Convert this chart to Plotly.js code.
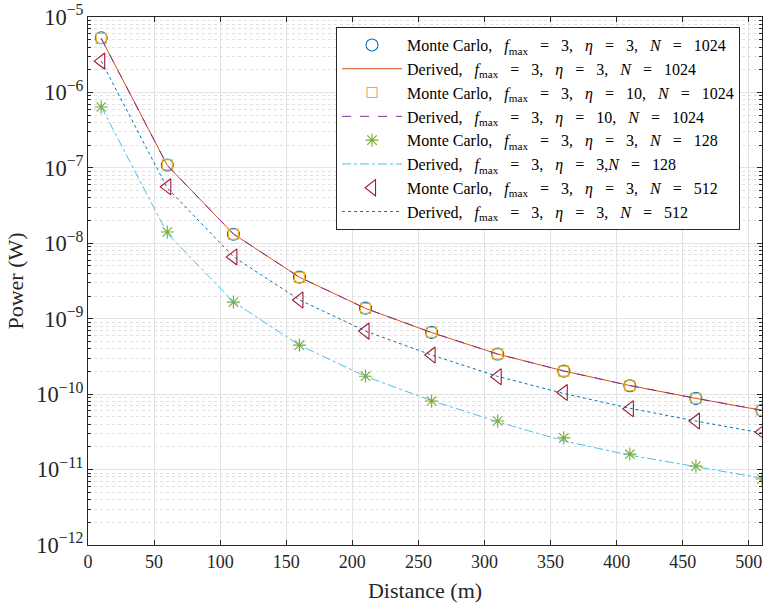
<!DOCTYPE html>
<html>
<head>
<meta charset="utf-8">
<script src="https://cdn.plot.ly/plotly-3.0.1.min.js"></script>
<style>body{margin:0;padding:0;background:#fff}#chart{width:764px;height:608px}</style>
</head>
<body>
<div id="chart"></div>
<script>
// Distance (m)
const distance = [10, 60, 110, 160, 210, 260, 310, 360, 410, 460, 510];
// Monte Carlo, eta=3, N=1024
const mc_eta3_N1024 = [5.3e-6, 1.09e-7, 1.32e-8, 3.56e-9, 1.38e-9, 6.6e-10, 3.4e-10, 2.02e-10, 1.29e-10, 8.8e-11, 6.1e-11];
// Derived, eta=3, N=1024
const der_eta3_N1024 = [5.2e-6, 1.08e-7, 1.33e-8, 3.55e-9, 1.37e-9, 6.55e-10, 3.4e-10, 2.03e-10, 1.3e-10, 8.8e-11, 6.1e-11];
// Monte Carlo, eta=10, N=1024
const mc_eta10_N1024 = [5.2e-6, 1.1e-7, 1.32e-8, 3.55e-9, 1.37e-9, 6.6e-10, 3.4e-10, 2.02e-10, 1.29e-10, 8.8e-11, 6.1e-11];
// Derived, eta=10, N=1024
const der_eta10_N1024 = [5.2e-6, 1.08e-7, 1.33e-8, 3.55e-9, 1.37e-9, 6.55e-10, 3.4e-10, 2.03e-10, 1.3e-10, 8.8e-11, 6.1e-11];
// Monte Carlo, eta=3, N=128
const mc_eta3_N128 = [6.4e-7, 1.41e-8, 1.66e-9, 4.47e-10, 1.73e-10, 8.1e-11, 4.4e-11, 2.63e-11, 1.6e-11, 1.11e-11, 7.5e-12];
// Derived, eta=3, N=128
const der_eta3_N128 = [6.5e-7, 1.35e-8, 1.68e-9, 4.45e-10, 1.72e-10, 8.2e-11, 4.3e-11, 2.4e-11, 1.55e-11, 1.08e-11, 7.7e-12];
// Monte Carlo, eta=3, N=512
const mc_eta3_N512 = [2.6e-6, 5.6e-8, 6.6e-9, 1.77e-9, 6.85e-10, 3.3e-10, 1.7e-10, 1.05e-10, 6.4e-11, 4.4e-11, 3.15e-11];
// Derived, eta=3, N=512
const der_eta3_N512 = [2.6e-6, 5.4e-8, 6.65e-9, 1.78e-9, 6.85e-10, 3.3e-10, 1.72e-10, 1.02e-10, 6.5e-11, 4.4e-11, 3.05e-11];

const S = '\u00a0';
const EQ = S + S + S + '=' + S + S + S;
const CM = ',' + S + S + S;
const legendNames = [
  'Monte' + S + 'Carlo' + CM + '<i>f</i><sub>max</sub>' + EQ + '3' + CM + '<i>η</i>' + EQ + '3' + CM + '<i>N</i>' + EQ + '1024',
  'Derived' + CM + '<i>f</i><sub>max</sub>' + EQ + '3' + CM + '<i>η</i>' + EQ + '3' + CM + '<i>N</i>' + EQ + '1024',
  'Monte' + S + 'Carlo' + CM + '<i>f</i><sub>max</sub>' + EQ + '3' + CM + '<i>η</i>' + EQ + '10' + CM + '<i>N</i>' + EQ + '1024',
  'Derived' + CM + '<i>f</i><sub>max</sub>' + EQ + '3' + CM + '<i>η</i>' + EQ + '10' + CM + '<i>N</i>' + EQ + '1024',
  'Monte' + S + 'Carlo' + CM + '<i>f</i><sub>max</sub>' + EQ + '3' + CM + '<i>η</i>' + EQ + '3' + CM + '<i>N</i>' + EQ + '128',
  'Derived' + CM + '<i>f</i><sub>max</sub>' + EQ + '3' + CM + '<i>η</i>' + EQ + '3,<i>N</i>' + EQ + '128',
  'Monte' + S + 'Carlo' + CM + '<i>f</i><sub>max</sub>' + EQ + '3' + CM + '<i>η</i>' + EQ + '3' + CM + '<i>N</i>' + EQ + '512',
  'Derived' + CM + '<i>f</i><sub>max</sub>' + EQ + '3' + CM + '<i>η</i>' + EQ + '3' + CM + '<i>N</i>' + EQ + '512'
];

const traces = [
  {x: distance, y: mc_eta3_N1024, mode: 'markers', name: legendNames[0],
   marker: {symbol: 'circle-open', size: 12, color: '#0072BD', line: {width: 1.1, color: '#0072BD'}}},
  {x: distance, y: der_eta3_N1024, mode: 'lines', name: legendNames[1],
   line: {color: '#D95319', width: 1}},
  {x: distance, y: mc_eta10_N1024, mode: 'markers', name: legendNames[2],
   marker: {symbol: 'square-open', size: 10, color: '#EDB120', line: {width: 1.1, color: '#EDB120'}}},
  {x: distance, y: der_eta10_N1024, mode: 'lines', name: legendNames[3],
   line: {color: '#7E2F8E', width: 1, dash: 'dash'}},
  {x: distance, y: mc_eta3_N128, mode: 'markers', name: legendNames[4],
   marker: {symbol: 'asterisk-open', size: 11, color: '#77AC30', line: {width: 1.1, color: '#77AC30'}}},
  {x: distance, y: der_eta3_N128, mode: 'lines', name: legendNames[5],
   line: {color: '#4DBEEE', width: 1, dash: 'dashdot'}},
  {x: distance, y: mc_eta3_N512, mode: 'markers', name: legendNames[6],
   marker: {symbol: 'triangle-left-open', size: 14, color: '#A2142F', line: {width: 1.1, color: '#A2142F'}}},
  {x: distance, y: der_eta3_N512, mode: 'lines', name: legendNames[7],
   line: {color: '#0072BD', width: 1, dash: 'dot'}}
];

const font = 'Liberation Serif, Times New Roman, serif';
const layout = {
  width: 764, height: 608,
  margin: {l: 88, r: 2, t: 17, b: 63},
  paper_bgcolor: '#fff', plot_bgcolor: '#fff',
  font: {family: font, size: 16, color: '#262626'},
  showlegend: true,
  legend: {
    x: 0.368, y: 0.981, xanchor: 'left', yanchor: 'top',
    bgcolor: '#fff', bordercolor: '#262626', borderwidth: 1,
    font: {family: font, size: 16, color: '#000'},
    itemwidth: 60, tracegroupgap: 0
  },
  xaxis: {
    range: [0, 510], dtick: 50, tick0: 0,
    title: {text: 'Distance (m)', font: {family: font, size: 22, color: '#262626'}, standoff: 12},
    ticks: 'inside', ticklen: 5, tickcolor: '#262626', mirror: 'ticks',
    showline: true, linecolor: '#262626', linewidth: 1,
    showgrid: true, gridcolor: '#e3e3e3', gridwidth: 1,
    zeroline: false,
    tickfont: {family: font, size: 18, color: '#262626'}
  },
  yaxis: {
    type: 'log', range: [-12, -5], dtick: 1,
    exponentformat: 'power',
    title: {text: 'Power (W)', font: {family: font, size: 22, color: '#262626'}, standoff: 6},
    ticks: 'inside', ticklen: 5, tickcolor: '#262626', mirror: 'ticks',
    showline: true, linecolor: '#262626', linewidth: 1,
    showgrid: true, gridcolor: '#e3e3e3', gridwidth: 1,
    zeroline: false,
    tickfont: {family: font, size: 18, color: '#262626'},
    minor: {dtick: 'D1', showgrid: true, gridcolor: '#e0e0e0', griddash: 'dot', gridwidth: 1,
            ticks: 'inside', ticklen: 3, tickcolor: '#262626'}
  }
};

Plotly.newPlot('chart', traces, layout, {staticPlot: true, displayModeBar: false});
</script>
</body>
</html>
